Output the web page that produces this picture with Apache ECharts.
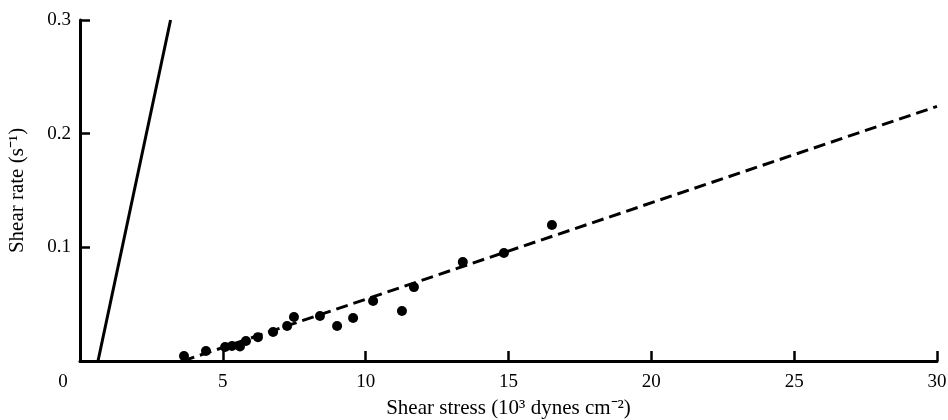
<!DOCTYPE html>
<html><head><meta charset="utf-8">
<script src="https://cdn.jsdelivr.net/npm/echarts@6/dist/echarts.min.js"></script>
<style>html,body{margin:0;padding:0;background:#fff}#c{width:948px;height:420px}</style>
</head><body><div id="c"></div>
<script>
const xTicks = [0, 5, 10, 15, 20, 25, 30];
const yTicks = [0, 0.1, 0.2, 0.3];
const pointsX = [3.64, 4.41, 5.08, 5.32, 5.6, 5.81, 6.23, 6.76, 7.25, 7.49, 8.4, 9.0, 9.56, 10.26, 11.27, 11.69, 13.4, 14.84, 16.52];
const pointsY = [0.0044, 0.0088, 0.0123, 0.0132, 0.0128, 0.0176, 0.021, 0.0255, 0.0308, 0.0387, 0.0396, 0.0308, 0.0378, 0.0528, 0.044, 0.065, 0.087, 0.095, 0.1196];
const solidX = [0.63, 3.17];
const solidY = [0, 0.3];
const dashX = [3.6, 30];
const dashY = [0, 0.224];

const font = 'Liberation Serif';
const chart = echarts.init(document.getElementById('c'), null, {renderer: 'canvas'});
chart.setOption({
  animation: false,
  backgroundColor: '#fff',
  grid: {left: 80, right: 11, top: 20, bottom: 59, containLabel: false, outerBoundsMode: 'none'},
  xAxis: {
    type: 'value', min: 0, max: 30, interval: 5,
    name: 'Shear stress (10³ dynes cm⁻²)', nameLocation: 'middle', nameGap: 37,
    nameTextStyle: {fontFamily: font, fontSize: 21, color: '#000'},
    axisLine: {lineStyle: {color: '#000', width: 3}},
    axisTick: {inside: true, length: 10, lineStyle: {color: '#000', width: 2.5}},
    splitLine: {show: false},
    axisLabel: {
      fontFamily: font, fontSize: 19, color: '#000', margin: 12,
      formatter: v => (v === 0 ? '{z|0}' : String(v)),
      rich: {z: {fontFamily: font, fontSize: 19, color: '#000', padding: [0, 34, 0, 0]}}
    }
  },
  yAxis: {
    type: 'value', min: 0, max: 0.3, interval: 0.1,
    name: 'Shear rate (s⁻¹)', nameLocation: 'middle', nameGap: 52, nameRotate: 90,
    nameTextStyle: {fontFamily: font, fontSize: 21, color: '#000'},
    axisLine: {lineStyle: {color: '#000', width: 3}},
    axisTick: {inside: true, length: 10, lineStyle: {color: '#000', width: 2.5}},
    splitLine: {show: false},
    axisLabel: {
      fontFamily: font, fontSize: 19, color: '#000', margin: 9,
      formatter: v => (v === 0 ? '' : v.toFixed(1))
    }
  },
  series: [
    {type: 'line', data: solidX.map((x, i) => [x, solidY[i]]), symbol: 'none',
     lineStyle: {color: '#000', width: 3}},
    {type: 'line', data: dashX.map((x, i) => [x, dashY[i]]), symbol: 'none',
     lineStyle: {color: '#000', width: 3, type: [12, 6]}},
    {type: 'scatter', data: pointsX.map((x, i) => [x, pointsY[i]]), symbol: 'circle', symbolSize: 10,
     itemStyle: {color: '#000', opacity: 1}}
  ]
});
</script></body></html>
